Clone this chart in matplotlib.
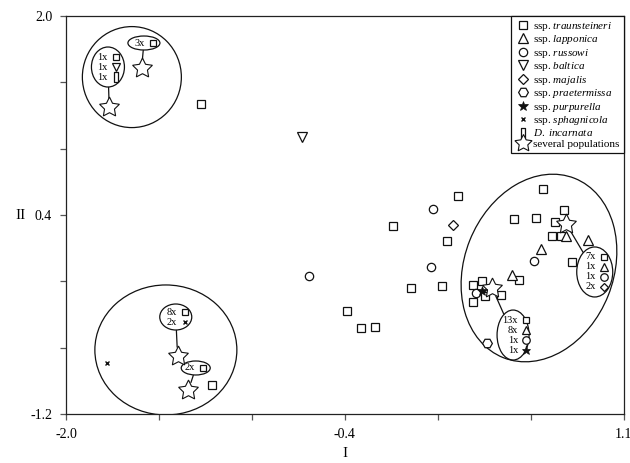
import matplotlib.pyplot as plt
import matplotlib.transforms as mtransforms
from matplotlib.patches import Ellipse
from matplotlib.lines import Line2D
from matplotlib.path import Path
import numpy as np

plt.rcParams['font.family'] = 'Liberation Serif'
plt.rcParams['mathtext.fontset'] = 'custom'
plt.rcParams['mathtext.rm'] = 'Liberation Serif'
plt.rcParams['mathtext.it'] = 'Liberation Serif:italic'

# PCA scores (axis I, axis II) per taxon
trau_x = [-1.25, -0.18, 0.18, 0.12, -0.08, 0.09, -0.44, -0.36, -0.28, 0.65, 0.49, 0.61,
          0.77, 0.72, 0.70, 0.75, 0.81, 0.52, 0.31, 0.26, 0.33, 0.42, 0.26, -1.19]
trau_y = [1.29, 0.31, 0.55, 0.19, -0.19, -0.17, -0.37, -0.51, -0.50, 0.61, 0.37, 0.38,
          0.44, 0.34, 0.23, 0.23, 0.02, -0.12, -0.13, -0.16, -0.25, -0.24, -0.30, -0.97]
lapp_x = [0.78, 0.90, 0.64, 0.48]
lapp_y = [0.23, 0.20, 0.13, -0.08]
russ_x = [0.04, 0.03, -0.65, 0.60, 0.28]
russ_y = [0.45, -0.02, -0.09, 0.03, -0.23]
balt_x = [-0.69]
balt_y = [1.03]
maja_x = [0.15]
maja_y = [0.32]
prae_x = [0.34]
prae_y = [-0.63]
purp_x = [0.31]
purp_y = [-0.21]
spha_x = [-1.77]
spha_y = [-0.79]
# centroids of several identical populations
sev_x = [-1.58, -1.76, -1.38, -1.32, 0.78, 0.37]
sev_y = [1.58, 1.27, -0.73, -1.01, 0.33, -0.19]

# counts shown next to each "several populations" star
grp_rows = [
    [],
    [("3x", "trau")],
    [("1x", "trau"), ("1x", "balt"), ("1x", "inca")],
    [],
    [("8x", "trau"), ("2x", "spha")],
    [("2x", "trau")],
    [],
    [("7x", "trau"), ("1x", "lapp"), ("1x", "russ"), ("2x", "maja")],
    [("13x", "trau"), ("8x", "lapp"), ("1x", "russ"), ("1x", "purp")],
]
grp_star = [None, 0, 1, None, 2, 3, None, 4, 5]

# ellipse layout: centre in data units, size in pixels
ell_cx = [-1.634, -1.567, -1.767, -1.445, -1.390, -1.279, 0.629, 0.939, 0.485]
ell_cy = [1.509, 1.783, 1.590, -0.685, -0.420, -0.830, -0.026, -0.058, -0.565]
ell_w = [99, 32, 33, 142, 32, 29, 193, 36, 32]
ell_h = [101, 14, 40, 130, 26, 14, 149, 50, 50]
ell_ang = [0, 0, 0, 0, 0, 0, 68.3, 0, 0]
txt_shift = [0, 1, 0, 0, 1, -1, 0, 1, 5]

bar = Path([(-0.4, -1), (0.4, -1), (0.4, 1), (-0.4, 1), (-0.4, -1)],
           [Path.MOVETO, Path.LINETO, Path.LINETO, Path.LINETO, Path.CLOSEPOLY])

ec = '#111111'
styles = {
    'trau': dict(marker='s', ms=5.5, mfc='white', mec=ec, mew=0.9),
    'lapp': dict(marker='^', ms=6.5, mfc='white', mec=ec, mew=0.9),
    'russ': dict(marker='o', ms=6, mfc='white', mec=ec, mew=0.9),
    'balt': dict(marker='v', ms=6.5, mfc='white', mec=ec, mew=0.9),
    'maja': dict(marker='D', ms=5, mfc='white', mec=ec, mew=0.9),
    'prae': dict(marker='H', ms=7, mfc='white', mec=ec, mew=0.9),
    'purp': dict(marker='*', ms=7.5, mfc=ec, mec=ec, mew=0.5),
    'spha': dict(marker='x', ms=3.5, mfc=ec, mec=ec, mew=1.0),
    'inca': dict(marker=bar, ms=8, mfc='white', mec=ec, mew=0.9),
    'sev': dict(marker=(5, 1, 0), ms=15, mfc='white', mec=ec, mew=0.8),
}

fig, ax = plt.subplots(figsize=(6.3, 4.63), dpi=100)
fig.subplots_adjust(left=0.1048, right=0.990, bottom=0.1058, top=0.9654)
ax.set_xlim(-2.0, 1.1)
ax.set_ylim(-1.2, 2.0)

series = [
    ('trau', trau_x, trau_y), ('lapp', lapp_x, lapp_y), ('russ', russ_x, russ_y),
    ('balt', balt_x, balt_y), ('maja', maja_x, maja_y), ('prae', prae_x, prae_y),
    ('spha', spha_x, spha_y), ('sev', sev_x, sev_y), ('purp', purp_x, purp_y),
]
for key, xs, ys in series:
    ax.plot(xs, ys, ls='none', zorder=3, **styles[key])

# group ellipses with counts and connectors to the stars
for i in range(len(ell_cx)):
    trans = fig.dpi_scale_trans + mtransforms.ScaledTranslation(ell_cx[i], ell_cy[i], ax.transData)
    ell = Ellipse((0, 0), ell_w[i] / 100, ell_h[i] / 100, angle=ell_ang[i],
                  transform=trans, fill=False, ec=ec, lw=0.9, zorder=2)
    ax.add_patch(ell)
    rows = grp_rows[i]
    n = len(rows)
    for j, (lab, key) in enumerate(rows):
        dy = ((n - 1) / 2 - j) * 10
        t_txt = mtransforms.offset_copy(ax.transData, fig=fig, x=txt_shift[i], y=dy, units='dots')
        t_mk = mtransforms.offset_copy(ax.transData, fig=fig, x=txt_shift[i] + 8, y=dy, units='dots')
        ax.text(ell_cx[i], ell_cy[i], lab, transform=t_txt, ha='right', va='center',
                fontsize=7.5, zorder=4)
        st = dict(styles[key])
        st['ms'] = st['ms'] * 0.9
        ax.plot([ell_cx[i]], [ell_cy[i]], transform=t_mk, ls='none', zorder=4, **st)
    if grp_star[i] is not None:
        s = grp_star[i]
        ax.annotate('', xy=(sev_x[s], sev_y[s]), xytext=(ell_cx[i], ell_cy[i]),
                    arrowprops=dict(arrowstyle='-', patchA=ell, shrinkA=0, shrinkB=6,
                                    lw=0.9, color=ec), zorder=2)

# axes and ticks
ax.set_xticks([-2.0, -0.45, 1.1])
ax.set_xticklabels(['-2.0', '-0.4', '1.1'])
ax.set_xticks(np.linspace(-2.0, 1.1, 7), minor=True)
ax.set_yticks([-1.2, 0.4, 2.0])
ax.set_yticklabels(['-1.2', '0.4', '2.0'])
ax.set_yticks(np.linspace(-1.2, 2.0, 7), minor=True)
ax.tick_params(which='both', direction='out', length=4, width=0.9, color='#555555',
               labelsize=10, pad=6)
for sp in ax.spines.values():
    sp.set_linewidth(0.9)
    sp.set_color('#222222')

ax.set_xlabel('I', fontsize=11)
ax.set_ylabel('II', fontsize=11, rotation=0)
ax.xaxis.set_label_coords(0.5, -0.083)
ax.yaxis.set_label_coords(-0.081, 0.5)
ax.yaxis.label.set_va('center')

labels = ['ssp. $traunsteineri$', 'ssp. $lapponica$', 'ssp. $russowi$', 'ssp. $baltica$',
          'ssp. $majalis$', 'ssp. $praetermissa$', 'ssp. $purpurella$',
          'ssp. $sphagnicola$', '$D.$ $incarnata$', 'several populations']
keys = ['trau', 'lapp', 'russ', 'balt', 'maja', 'prae', 'purp', 'spha', 'inca', 'sev']
handles = []
for k in keys:
    st = dict(styles[k])
    if k == 'sev':
        st['ms'] = 13
    elif k == 'inca':
        st['ms'] = 7.5
    handles.append(Line2D([], [], ls='none', **st))
leg = ax.legend(handles, labels, loc='upper right', bbox_to_anchor=(1.0, 1.0),
                borderaxespad=0, fontsize=8, handlelength=1.5, handletextpad=0.2,
                labelspacing=0.04, borderpad=0.35, fancybox=False, framealpha=1,
                edgecolor='#111111')
leg.get_frame().set_linewidth(0.9)

plt.savefig('out.png', dpi=100)
